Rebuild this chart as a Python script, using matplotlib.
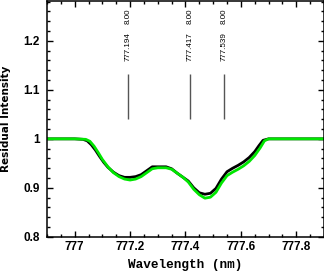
import matplotlib.pyplot as plt
from matplotlib.ticker import MultipleLocator

# observed / model residual intensity around the O I 777 nm triplet
wl_black = [776.90, 777.00, 777.03, 777.045, 777.06, 777.075, 777.09, 777.105, 777.12, 777.14,
            777.16, 777.18, 777.20, 777.22, 777.24, 777.26, 777.28, 777.30, 777.33, 777.35,
            777.37, 777.39, 777.41, 777.43, 777.45, 777.47, 777.49, 777.51, 777.53, 777.55,
            777.57, 777.59, 777.61, 777.63, 777.65, 777.665, 777.68, 777.70, 777.90]
ri_black = [1.000, 1.000, 0.999, 0.996, 0.988, 0.977, 0.964, 0.952, 0.942, 0.932,
            0.925, 0.9215, 0.9215, 0.923, 0.927, 0.935, 0.943, 0.943, 0.943, 0.939,
            0.930, 0.922, 0.914, 0.900, 0.890, 0.887, 0.889, 0.899, 0.918, 0.933,
            0.940, 0.946, 0.953, 0.962, 0.974, 0.986, 0.997, 1.000, 1.000]

wl_green = [776.90, 777.00, 777.04, 777.055, 777.07, 777.085, 777.10, 777.12, 777.14, 777.16,
            777.18, 777.20, 777.22, 777.24, 777.26, 777.28, 777.30, 777.33, 777.35, 777.37,
            777.39, 777.41, 777.43, 777.45, 777.47, 777.49, 777.51, 777.53, 777.55, 777.57,
            777.59, 777.61, 777.63, 777.65, 777.67, 777.685, 777.70, 777.90]
ri_green = [1.000, 1.000, 0.999, 0.995, 0.985, 0.972, 0.958, 0.943, 0.931, 0.923,
            0.918, 0.916, 0.918, 0.923, 0.931, 0.939, 0.941, 0.941, 0.938, 0.930,
            0.922, 0.912, 0.897, 0.886, 0.879, 0.881, 0.891, 0.910, 0.925, 0.932,
            0.938, 0.945, 0.954, 0.966, 0.982, 0.996, 1.000, 1.000]

# line identifications
line_wl = [777.194, 777.417, 777.539]
line_labels = ["777.194", "777.417", "777.539"]
line_ep = ["8.00", "8.00", "8.00"]

fig = plt.figure(figsize=(3.24, 2.72), dpi=100)
ax = fig.add_axes([0.145, 0.129, 0.855, 0.867])

ax.plot(wl_black, ri_black, color='black', lw=2.0)
ax.plot(wl_green, ri_green, color='#00e600', lw=2.0)

ax.vlines(line_wl, 1.04, 1.133, color='#555555', lw=1.0)
for w, lab, ep in zip(line_wl, line_labels, line_ep):
    ax.text(w, 1.188, lab, rotation=90, ha='center', va='center',
            fontsize=5.8, family='Liberation Sans')
    ax.text(w, 1.251, ep, rotation=90, ha='center', va='center',
            fontsize=5.8, family='Liberation Sans')

ax.set_xlim(776.9, 777.9)
ax.set_ylim(0.8, 1.281)
ax.set_xticks([777.0, 777.2, 777.4, 777.6, 777.8])
ax.set_xticklabels(["777", "777.2", "777.4", "777.6", "777.8"])
ax.set_yticks([0.8, 0.9, 1.0, 1.1, 1.2])
ax.set_yticklabels(["0.8", "0.9", "1", "1.1", "1.2"])
ax.xaxis.set_minor_locator(MultipleLocator(0.05))
ax.yaxis.set_minor_locator(MultipleLocator(0.02))
ax.tick_params(which='both', direction='in', top=True, right=True, width=1.0)
ax.tick_params(which='major', length=4)
ax.tick_params(which='minor', length=2.2)
ax.tick_params(axis='y', pad=5)
ax.tick_params(axis='x', pad=3)
for lab in ax.get_xticklabels() + ax.get_yticklabels():
    lab.set_family('Liberation Sans')
    lab.set_fontweight('bold')
    lab.set_fontsize(8.5)
for s in ax.spines.values():
    s.set_linewidth(1.1)

ax.set_xlabel("Wavelength (nm)", family='Liberation Mono', fontweight='bold', fontsize=9.2)
ax.set_ylabel("Residual Intensity", family='DejaVu Sans', fontweight='bold', fontsize=7.5)
ax.xaxis.label.set_va('center')
ax.yaxis.label.set_va('center')
ax.xaxis.set_label_coords(0.5, -0.119)
ax.yaxis.set_label_coords(-0.148, 0.5)

fig.savefig('out.png', dpi=100)
